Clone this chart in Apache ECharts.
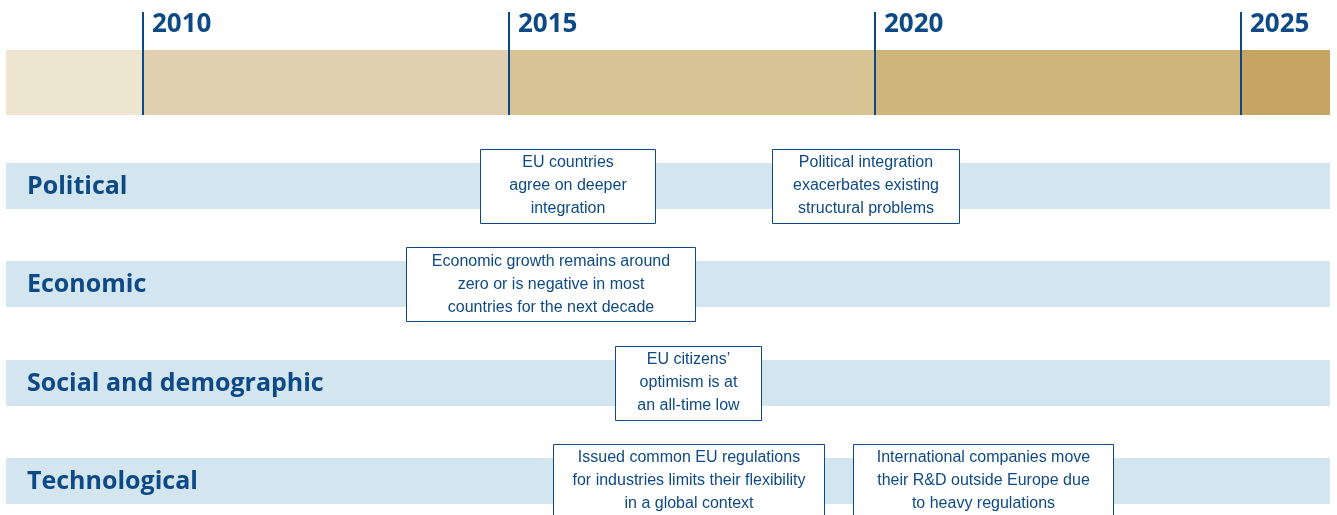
<!DOCTYPE html>
<html>
<head>
<meta charset="utf-8" />
<script src="https://cdn.jsdelivr.net/npm/echarts@6/dist/echarts.min.js"></script>
<style>
  html, body { margin: 0; padding: 0; background: #fff; }
</style>
</head>
<body>
<div id="main" style="width: 1337px; height: 515px"></div>
<script type="text/javascript">
// timeline milestones
const years = [2010, 2015, 2020, 2025];
const xMin = 2008.13;
const xMax = 2026.22;
// row categories
const rows = ['Political', 'Economic', 'Social and demographic', 'Technological'];
// events: row index, start year, end year, text
const eventRow = [0, 0, 1, 2, 3, 3];
const eventStart = [2014.6, 2018.6, 2013.6, 2016.45, 2015.6, 2019.7];
const eventEnd = [2017.0, 2021.15, 2017.55, 2018.45, 2019.3, 2023.25];
const eventText = [
    'EU countries\nagree on deeper\nintegration',
    'Political integration\nexacerbates existing\nstructural problems',
    'Economic growth remains around\nzero or is negative in most\ncountries for the next decade',
    'EU citizens\u2019\noptimism is at\nan all-time low',
    'Issued common EU regulations\nfor industries limits their flexibility\nin a global context',
    'International companies move\ntheir R&D outside Europe due\nto heavy regulations'
];

const blue = '#0d4a85';
const goldColors = ['#ede5d0', '#e1d1b0', '#d8c395', '#cfb47c', '#c6a562'];
const bandStops = [xMin].concat(years, [xMax]);
const segments = goldColors.map((c, i) => [bandStops[i], bandStops[i + 1]]);

var myChart = echarts.init(document.getElementById('main'));

myChart.setOption({
    animation: false,
    grid: [
        { left: 6, right: 7, top: 12, height: 103 },
        { left: 6, right: 7, top: 136.8, bottom: 0 }
    ],
    xAxis: [
        { gridIndex: 0, type: 'value', min: xMin, max: xMax, show: false },
        { gridIndex: 1, type: 'value', min: xMin, max: xMax, show: false }
    ],
    yAxis: [
        { gridIndex: 0, type: 'value', min: 0, max: 1, show: false },
        { gridIndex: 1, type: 'value', min: -0.5, max: 3.346, inverse: true, show: false }
    ],
    series: [
        {
            // gold period band
            type: 'custom',
            xAxisIndex: 0, yAxisIndex: 0,
            data: segments,
            renderItem: function (params, api) {
                const cs = params.coordSys;
                const x0 = api.coord([api.value(0), 0])[0];
                const x1 = api.coord([api.value(1), 0])[0];
                return {
                    type: 'rect',
                    shape: { x: x0, y: cs.y + cs.height - 65, width: x1 - x0, height: 65 },
                    style: { fill: goldColors[params.dataIndex] }
                };
            },
            z: 1
        },
        {
            // year markers
            type: 'custom',
            xAxisIndex: 0, yAxisIndex: 0,
            data: years.map(y => [y]),
            renderItem: function (params, api) {
                const cs = params.coordSys;
                const x = Math.round(api.coord([api.value(0), 0])[0]);
                return {
                    type: 'group',
                    children: [
                        {
                            type: 'line',
                            shape: { x1: x, y1: cs.y, x2: x, y2: cs.y + cs.height },
                            style: { stroke: blue, lineWidth: 2 }
                        },
                        {
                            type: 'text',
                            style: {
                                text: String(years[params.dataIndex]),
                                x: x + 9, y: cs.y + 13,
                                align: 'left', verticalAlign: 'middle',
                                fill: blue,
                                font: 'bold 26px "Open Sans", sans-serif'
                            }
                        }
                    ]
                };
            },
            z: 3
        },
        {
            // row bands and labels
            type: 'custom',
            xAxisIndex: 1, yAxisIndex: 1,
            data: rows.map((r, i) => [i]),
            renderItem: function (params, api) {
                const cs = params.coordSys;
                const y = api.coord([xMin, api.value(0)])[1];
                return {
                    type: 'group',
                    children: [
                        {
                            type: 'rect',
                            shape: { x: cs.x, y: Math.round(y - 23), width: cs.width, height: 46 },
                            style: { fill: '#d3e5ef' }
                        },
                        {
                            type: 'text',
                            style: {
                                text: rows[params.dataIndex],
                                x: cs.x + 21, y: y + 1,
                                align: 'left', verticalAlign: 'middle',
                                fill: blue,
                                font: 'bold 25px "Open Sans", sans-serif'
                            }
                        }
                    ]
                };
            },
            z: 1
        },
        {
            // event boxes
            type: 'custom',
            xAxisIndex: 1, yAxisIndex: 1,
            data: eventRow.map((r, i) => [eventStart[i], eventEnd[i], r]),
            renderItem: function (params, api) {
                const p0 = api.coord([api.value(0), api.value(2)]);
                const p1 = api.coord([api.value(1), api.value(2)]);
                const x0 = Math.round(p0[0]) + 0.5;
                const x1 = Math.round(p1[0]) + 0.5;
                const yc = p0[1];
                return {
                    type: 'group',
                    children: [
                        {
                            type: 'rect',
                            shape: { x: x0, y: Math.round(yc - 37) + 0.5, width: x1 - x0, height: 74 },
                            style: { fill: '#ffffff', stroke: blue, lineWidth: 1 }
                        },
                        {
                            type: 'text',
                            style: {
                                text: eventText[params.dataIndex],
                                x: (x0 + x1) / 2, y: yc,
                                align: 'center', verticalAlign: 'middle',
                                lineHeight: 23,
                                fill: blue,
                                font: '16px "Liberation Sans", sans-serif'
                            }
                        }
                    ]
                };
            },
            z: 5
        }
    ]
});
</script>
</body>
</html>
